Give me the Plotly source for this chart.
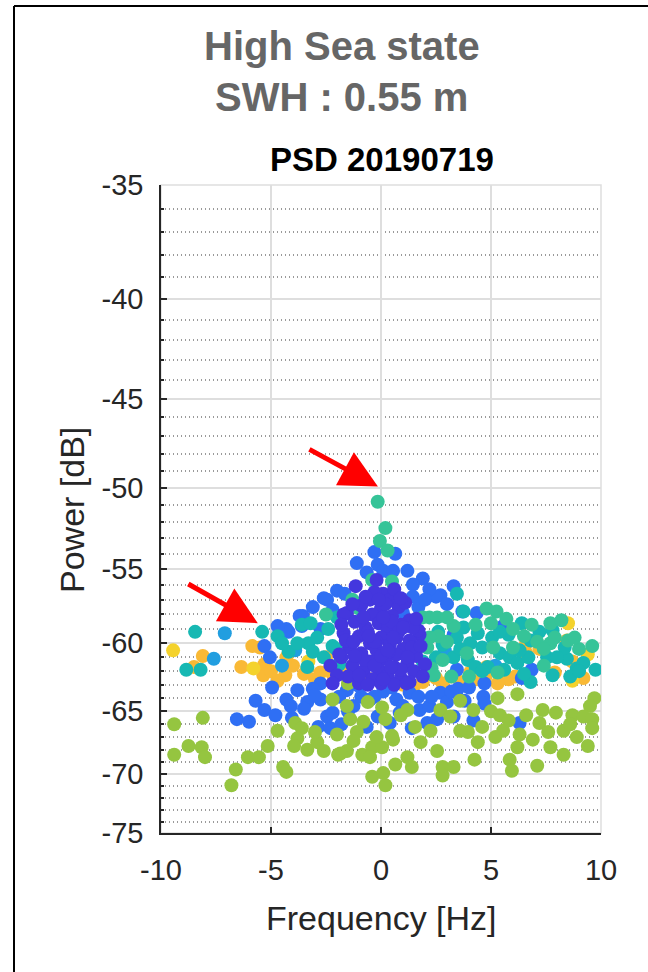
import math
import plotly.graph_objects as go

# ---------------- data (frequency [Hz], power [dB]) ----------------
indigo_f = [-0.2, -1.15, 0.1, -0.5, 0.4, -0.9, 0.0, 0.8, -1.55, -0.4, 0.5, 1.3, -1.2, -0.1, 0.9, -0.7, 0.3,
            1.75, -1.7, -1.0, 0.0, 0.7, 1.3, -0.5, 0.4, -1.4, 1.0, -0.2, 0.7, -0.9, 1.6, -1.8, 0.2, -0.5, 1.2,
            -1.3, 0.6, -0.1, -0.8, 1.5, 0.3, -1.5, 0.9, -0.4, 0.0, 1.3, -1.0, -2.3, -2.0, 2.0, 1.9, -0.6, 0.5,
            0.2, -0.3, 0.6, -1.7, 1.7, 1.1, -1.1, 0.8, -0.2, 0.35, -0.75, 1.45, -1.45,
            -1.6, -1.2, -0.3, 0.9, 1.4, 0.1, -0.8, 1.0, -0.3, 0.45, -1.0, 0.6, -0.6, 1.6, 1.8, -1.9, -2.2,
            -1.8, -1.3, 0.9, -0.7, 1.15, 0.1, -0.1, 0.55, -1.25, 1.2, 0.0, -0.55, 0.3]
indigo_p = [-55.7, -56.1, -56.6, -57.0, -57.0, -57.4, -57.6, -57.5, -57.9, -58.0, -58.1, -58.4, -58.5, -58.6,
            -58.7, -58.9, -59.0, -59.4, -59.3, -59.5, -59.6, -59.6, -59.8, -60.0, -60.1, -60.2, -60.4, -60.5,
            -60.8, -60.7, -60.9, -61.0, -61.1, -61.3, -61.4, -61.6, -61.7, -61.9, -62.0, -62.0, -62.3, -62.4,
            -62.5, -62.6, -62.9, -62.8, -62.9, -61.6, -62.3, -61.5, -62.4, -59.2, -58.5, -57.3, -56.5, -56.3,
            -58.0, -59.1, -57.2, -60.9, -59.2, -59.9, -60.6, -61.2, -58.9, -60.3,
            -59.8, -60.9, -61.6, -61.9, -60.3, -58.2, -58.2, -58.9, -59.9, -61.7, -62.3, -63.0, -63.0, -58.3,
            -60.2, -60.8, -62.9, -58.7, -57.3, -56.9, -56.8, -62.9, -62.6, -57.0, -59.6, -59.9, -61.0, -60.9,
            -59.5, -60.5]

blue_f = [-0.3, 0.65, -1.1, -0.15, -0.65, 0.1, 0.4, 1.2, 1.9, -2.0, -1.65, 1.45, 2.25, 2.7, 0.95, -2.45, -3.1,
          -2.2, 1.7, 1.0, -3.55, -3.7, -2.75, -4.3, -4.2, -3.6, 1.45, 3.3, 2.5, 2.2, 0.55, 3.7, 4.35, 5.55,
          -5.3, -5.05, -4.95, -3.8, -4.3, -5.3, -4.8, -6.55, -6.0, -4.05, -2.75, -3.1, -3.35, -2.75, -2.45,
          -2.2, -2.85, -2.3, -1.25, -0.9, -0.5, -0.15, -0.65, 0.7, 1.3, 0.85, 0.4, 1.75, 2.2, 2.7, 2.1, 0.1,
          -1.55, -1.0, 3.5, 4.0, 4.7, 4.65, 4.7, 6.3, 2.55, 3.3, 3.0, 6.4, 6.85, 3.45, 3.3,
          3.0, 2.0, -3.0, -1.9, -1.5, -0.3, 0.5, 1.0, 1.7, 2.3, 3.2, 3.8, -4.1, -3.5, -5.7, 4.2, 1.4, -1.8,
          -4.7, -2.6]
blue_p = [-53.9, -54.0, -54.6, -54.7, -55.2, -55.1, -55.2, -55.1, -55.6, -56.4, -56.6, -56.0, -56.7, -56.7,
          -57.0, -57.0, -57.5, -57.7, -57.5, -57.9, -58.1, -58.1, -59.0, -59.0, -59.2, -58.8, -56.8, -56.1,
          -56.8, -56.3, -55.1, -57.8, -57.9, -58.8, -60.2, -61.0, -63.2, -63.4, -64.1, -64.9, -65.3, -65.6,
          -65.8, -65.5, -62.9, -63.3, -64.3, -64.1, -65.4, -65.1, -66.2, -66.3, -64.6, -63.9, -64.1, -65.4,
          -66.2, -64.1, -63.6, -65.1, -65.9, -64.9, -64.6, -63.6, -65.9, -63.5, -63.4, -63.1, -63.3, -63.2,
          -62.9, -63.9, -64.4, -65.9, -65.6, -65.4, -64.3, -62.5, -61.9, -61.9, -59.4,
          -57.3, -57.0, -63.8, -63.9, -65.0, -63.9, -63.2, -64.6, -63.9, -63.9, -63.5, -64.2, -64.6, -64.8,
          -64.2, -65.7, -66.3, -66.0, -58.8, -56.9]

lightblue_f = [-7.1, -7.6, -4.5, -3.9, 2.9, 5.2]
lightblue_p = [-59.3, -61.1, -61.6, -60.5, -60.5, -61.6]

teal_f = [-8.45, -5.4, -8.85, -8.2, -4.7, -4.2, -3.6, -3.2, -3.35, -3.3, -3.1, -2.2, -2.0, -2.9, -1.85, -2.05,
          3.75, 3.45, 3.75, 3.45, 3.3, 3.95, 4.05, 4.4, 4.6, 5.05, 4.85, 5.4, 5.85, 6.2, 6.7, 7.55, 8.45, 8.9,
          9.75, 8.6, 6.8, 7.2, 7.8, 6.4, 8.35, 5.8, 5.4, 2.5, 1.9, 2.8, 2.6,
          -2.6, -3.8, -2.4, -1.9, -4.5, 6.8, 8.0, 9.2, 4.3, 5.6, 6.5, 7.8, 4.6, 6.3, 9.0, 3.6]
teal_p = [-59.2, -59.2, -61.9, -61.9, -59.5, -60.6, -58.7, -58.6, -61.7, -60.0, -60.6, -60.2, -58.2, -59.6,
          -58.4, -60.4, -57.8, -56.6, -58.9, -59.6, -61.0, -61.2, -60.0, -59.3, -60.3, -59.6, -61.7, -60.7,
          -61.0, -61.4, -61.0, -61.0, -61.1, -61.8, -61.9, -62.4, -62.8, -59.2, -59.1, -58.6, -60.3, -59.4,
          -59.2, -61.0, -61.3, -60.1, -59.2,
          -61.0, -60.0, -59.0, -61.5, -60.0, -59.8, -61.0, -61.4, -61.7, -61.9, -62.2, -62.3, -62.0, -60.5,
          -62.0, -60.4]

seagreen_f = [-0.15, 0.2, -0.05, 0.3, 0.5, -0.4, -1.0, 1.9, 2.2, 2.55, 3.3, 4.8, 5.25, 5.7, 6.85, 7.7, 8.2,
              7.1, 7.7, 8.5, 2.1, 2.6, 3.0, 2.8, 2.3, 3.2, 4.0, 5.3, 6.0, 4.3, 3.9, -2.5, -1.3, 6.5, 7.4, 9.0,
              5.0, 6.0, 7.4, 9.6, 8.8, 3.0, 2.4, 5.1, 7.9, 2.2]
seagreen_p = [-50.8, -52.4, -53.2, -53.8, -55.8, -55.7, -57.6, -58.2, -58.2, -58.2, -58.8, -57.6, -57.8,
              -58.3, -58.7, -58.6, -58.4, -59.9, -60.0, -59.8, -60.3, -59.5, -59.9, -61.2, -61.8, -62.4, -62.4,
              -62.1, -60.3, -58.7, -60.7, -58.0, -57.0, -59.5, -61.6, -60.4,
              -58.6, -59.0, -60.4, -60.2, -59.6, -58.2, -62.3, -60.3, -59.6, -59.6]

orange_f = [-8.1, -8.5, -5.85, -6.35, -5.5, -5.35, -4.35, -4.0, -3.35, -3.5, -2.75, -2.2, -2.5, -1.55, -0.5,
            1.9, 2.5, 3.2, 4.05, 4.35, 4.75, 4.8, 6.6, 6.6, 7.2, 7.9, 9.2, 8.45, 5.8, 1.0, -2.1, -5.3, -4.7,
            -5.0, -4.3, -3.0, -1.0, 0.3, 1.5, 2.8, 3.6, 5.3, 6.1, 8.7]
orange_p = [-60.9, -61.7, -60.2, -61.7, -60.3, -62.3, -62.3, -61.6, -61.8, -62.2, -62.1, -62.2, -61.0, -62.1,
            -62.6, -62.8, -62.5, -62.4, -62.1, -62.6, -62.4, -61.7, -60.7, -60.0, -60.4, -62.1, -62.5, -59.8,
            -62.6, -63.0, -62.2, -61.5, -62.7,
            -62.0, -61.0, -62.6, -62.9, -63.1, -63.1, -62.9, -62.8, -62.9, -62.4, -61.3]

yellow_f = [-9.45, -5.8, -3.3, 8.5, 9.4, 8.7, -1.0]
yellow_p = [-60.5, -61.8, -61.3, -58.6, -60.8, -62.7, -62.8]

ygreen_f = [-9.4, -8.1, -4.7, -3.9, -3.6, -3.8, -8.75, -9.4, -8.15, -8.0, -6.05, -5.55, -5.15, -3.95, -6.6,
            -6.8, -4.45, -4.3, -2.2, -1.55, -1.4, -1.1, -0.6, 0.05, 0.2, -3.35, -2.9, -2.6, -1.95, -1.55, -0.85,
            -0.4, 0.05, -0.5, 0.55, 1.2, 1.55, 2.25, 2.7, 3.15, 2.55, 0.65, 1.2, 1.4, -0.4, 0.1, 0.2, 2.8, 2.8,
            -1.25, -0.2, 6.2, 5.3, 9.7, 9.5, 3.6, 4.2, 5.0, 5.4, 7.35, 7.95, 8.7, 9.2, 9.6, 7.2, 5.55, 6.3, 6.9,
            3.95, 4.4, 5.2, 8.3, 8.9, 9.6, 7.7, 8.3, 9.4, 6.2, 4.25, 5.85, 5.95, 7.1, 3.3, -1.5,
            0.9, 1.8, 3.6, 4.6, 5.8, 6.6, 7.6, 8.6, -2.0, -3.0, -0.8, 0.5, -1.85]
ygreen_p = [-66.0, -65.5, -66.5, -65.9, -66.3, -67.1, -67.7, -68.4, -67.8, -68.6, -68.6, -68.6, -67.7, -67.7,
            -69.6, -70.9, -69.4, -69.8, -64.1, -64.6, -65.6, -66.6, -64.3, -64.7, -65.6, -68.0, -67.4, -68.1,
            -68.4, -68.1, -68.4, -67.8, -67.8, -68.6, -67.2, -64.9, -66.2, -66.5, -64.9, -65.4, -68.1, -69.2,
            -68.6, -69.4, -70.2, -69.9, -70.9, -69.4, -70.1, -67.3, -67.0, -63.7, -64.0, -64.0, -64.6, -64.2,
            -64.9, -65.0, -65.3, -64.9, -65.1, -65.3, -65.4, -65.6, -65.9, -66.5, -66.8, -67.2, -66.6, -67.4,
            -67.0, -66.5, -67.0, -66.3, -67.8, -68.4, -67.7, -67.8, -68.8, -68.8, -69.7, -69.3, -69.4, -62.9,
            -65.3, -67.4, -66.5, -66.2, -65.7, -65.3, -66.6, -66.0, -66.8, -66.6, -65.8, -66.9, -68.3]

x_ticks = [-10, -5, 0, 5, 10]
y_ticks = [-35, -40, -45, -50, -55, -60, -65, -70, -75]
y_minor = [v for v in range(-74, -35) if v % 5 != 0]

groups = [
    (orange_f, orange_p, "#f9b935"),
    (yellow_f, yellow_p, "#f4d22c"),
    (blue_f, blue_p, "#2f6ff4"),
    (lightblue_f, lightblue_p, "#219ee0"),
    (teal_f, teal_p, "#17b8b3"),
    (seagreen_f, seagreen_p, "#36c498"),
    (ygreen_f, ygreen_p, "#95c540"),
    (indigo_f, indigo_p, "#4437de"),
]

# ---------------- figure ----------------
W, H = 648, 972
L, R, T, B = 161, 601, 185, 833
fig = go.Figure()
for f, p, c in groups:
    fig.add_trace(go.Scatter(x=f, y=[-v for v in p], mode="markers",
                             marker=dict(size=14, color=c, line=dict(width=0)),
                             showlegend=False, hoverinfo="skip"))

font = "Liberation Sans, Arial, Helvetica, sans-serif"
def px(x):
    return (x - L) / (R - L)
def py(y):
    return (B - y) / (B - T)

fig.update_layout(
    width=W, height=H, margin=dict(l=L, r=W - R, t=T, b=H - B),
    paper_bgcolor="white", plot_bgcolor="white",
    font=dict(family=font, color="#262626"),
)
fig.update_xaxes(range=[-10, 10], tickvals=x_ticks, ticktext=[str(v) for v in x_ticks],
                 ticks="inside", ticklen=6, tickwidth=1.5, tickcolor="#262626",
                 showline=True, linecolor="#262626", linewidth=1.5,
                 showgrid=True, gridcolor="#dedede", gridwidth=1.5, zeroline=False,
                 ticklabelstandoff=10,
                 tickfont=dict(size=29, color="#262626"))
fig.update_yaxes(type="log", range=[math.log10(75), math.log10(35)],
                 tickvals=[-v for v in y_ticks], ticktext=[str(v) for v in y_ticks],
                 ticks="inside", ticklen=6, tickwidth=1.5, tickcolor="#262626",
                 showline=True, linecolor="#262626", linewidth=1.5,
                 showgrid=True, gridcolor="#dedede", gridwidth=1.5, zeroline=False,
                 ticklabelstandoff=10,
                 tickfont=dict(size=29, color="#262626"),
                 minor=dict(tickmode="array", tickvals=[-v for v in y_minor], ticks="inside",
                            ticklen=3, tickcolor="#262626", showgrid=True, gridcolor="#9a9a9a",
                            griddash="1px,3px", gridwidth=1.5))

# light box on top/right
fig.add_shape(type="rect", xref="paper", yref="paper", x0=0, x1=1, y0=0, y1=1,
              line=dict(color="#dedede", width=1.5), layer="below")
# outer frame (left and top edges)
fig.add_shape(type="line", xref="paper", yref="paper", x0=px(14), x1=px(14), y0=py(6), y1=py(990),
              line=dict(color="black", width=2))
fig.add_shape(type="line", xref="paper", yref="paper", x0=px(14), x1=px(700), y0=py(6), y1=py(6),
              line=dict(color="black", width=2))

ann = [
    dict(text="<b>High Sea state</b>", x=px(342), y=py(46), size=40, color="#666666"),
    dict(text="<b>SWH : 0.55 m</b>", x=px(341), y=py(97), size=40, color="#666666"),
    dict(text="<b>PSD 20190719</b>", x=px(382), y=py(160), size=33, color="#000000"),
    dict(text="Frequency [Hz]", x=px(381), y=py(918), size=34, color="#262626"),
]
for a in ann:
    fig.add_annotation(text=a["text"], x=a["x"], y=a["y"], xref="paper", yref="paper",
                       showarrow=False, xanchor="center", yanchor="middle",
                       font=dict(size=a["size"], color=a["color"], family=font))
fig.add_annotation(text="Power [dB]", x=px(72), y=py(510), xref="paper", yref="paper",
                   showarrow=False, textangle=-90, xanchor="center", yanchor="middle",
                   font=dict(size=34, color="#262626", family=font))

# red arrows
for tipf, tipp, ax, ay in [(-0.14, -49.9, -70, -38), (-5.6, -58.6, -71, -40)]:
    fig.add_annotation(x=tipf, y=math.log10(-tipp), xref="x", yref="y", text="",
                       showarrow=True, arrowhead=2, arrowsize=1.5, arrowwidth=5,
                       arrowcolor="#ff0000", ax=ax, ay=ay, standoff=0)

fig.write_html("out.html")
